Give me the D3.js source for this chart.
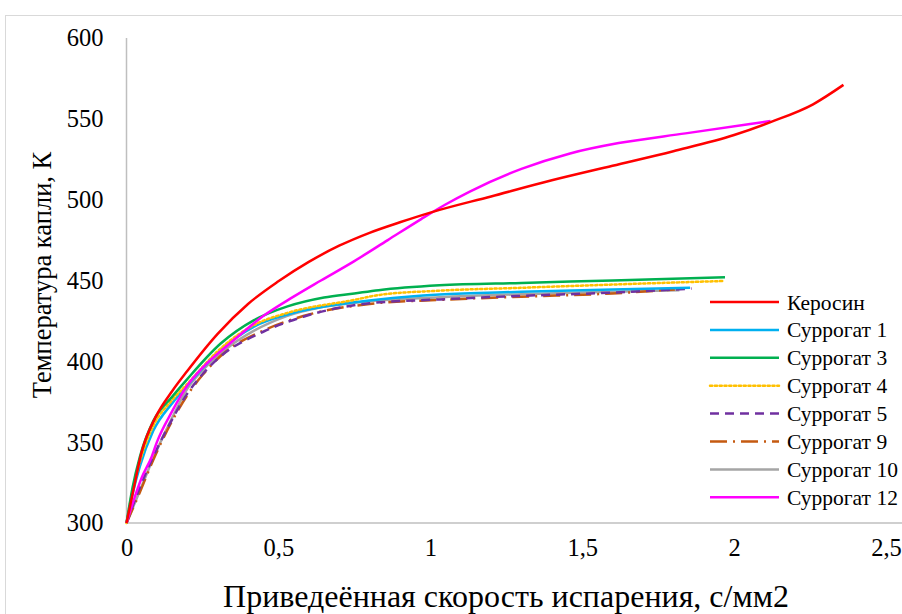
<!doctype html>
<html lang="ru">
<head>
  <meta charset="utf-8">
  <title>Температура капли</title>
  <script src="https://d3js.org/d3.v7.min.js"></script>
  <style>
    body { margin: 0; background: #fff; }
    text { font-family: "Liberation Serif", "Times New Roman", serif; fill: #000; }
  </style>
</head>
<body>
  <div id="chart"></div>
  <script>
    // series names, colours and line styles
    var names = ["Керосин", "Суррогат 1", "Суррогат 3", "Суррогат 4", "Суррогат 5", "Суррогат 9", "Суррогат 10", "Суррогат 12"];
    var colors = ["#FF0000", "#00B0F0", "#00B050", "#FFC000", "#7030A0", "#C55A11", "#A5A5A5", "#FF00FF"];
    var dashes = [null, null, null, "2.2,2.6", "9,6", "17,6,2,6", null, null];

    // values: [x, T]
    var kerosin = [[0,300],[0.02,318],[0.05,344],[0.1,367],[0.15,381.5],[0.2,394],[0.3,417],[0.4,435.5],[0.5,449.5],[0.6,461.5],[0.7,471.5],[0.8,479.5],[0.9,486],[1.0,492],[1.2,502],[1.4,512],[1.6,521],[1.8,530],[2.0,540],[2.12,548],[2.26,559],[2.36,571]];
    var surr1 = [[0,300],[0.02,318],[0.044,335],[0.088,357],[0.15,374],[0.2,385],[0.31,407],[0.42,421.5],[0.53,429],[0.75,436.5],[0.83,438.3],[1.03,441.4],[1.3,443],[1.6,444.5],[1.855,445.5]];
    var surr3 = [[0,300],[0.02,322],[0.044,341],[0.088,363],[0.15,378],[0.2,389],[0.31,411],[0.42,425.5],[0.53,434],[0.65,439.5],[0.75,442],[0.83,444],[1.03,447],[1.3,448.5],[1.6,450],[1.97,452]];
    var surr4 = [[0,300],[0.02,320],[0.044,338],[0.088,360],[0.15,376],[0.2,386],[0.31,408],[0.42,422.5],[0.53,430],[0.75,438],[0.83,441],[1.03,443.7],[1.3,445.5],[1.6,447.5],[1.965,449.7]];
    var surr5 = [[0,300],[0.044,322],[0.088,341],[0.15,364],[0.2,380],[0.25,392],[0.308,402.8],[0.45,418.3],[0.582,427.6],[0.8,435.9],[1.03,438.3],[1.3,440.5],[1.6,442.5],[1.86,445]];
    var surr9 = [[0,300],[0.044,319],[0.088,339],[0.15,363],[0.2,379],[0.25,391.5],[0.308,403],[0.45,419],[0.582,428],[0.8,435.5],[1.03,438],[1.3,440],[1.6,442],[1.805,444.5]];
    var surr10 = [[0,300],[0.044,320],[0.088,340],[0.15,365],[0.2,383],[0.253,395],[0.33,408],[0.42,419],[0.527,428],[0.75,436.2],[1.03,439.6],[1.3,441.5],[1.6,443],[1.82,444]];
    var surr12 = [[0,300],[0.02,312],[0.05,328],[0.083,341],[0.1,350],[0.15,369],[0.2,385],[0.25,396],[0.34,411],[0.45,428],[0.55,440],[0.64,450],[0.75,462],[0.86,475],[0.97,488],[1.05,497],[1.13,505],[1.3,519],[1.46,528.6],[1.62,535],[1.84,541],[2.12,548.6]];
    var series = [kerosin, surr1, surr3, surr4, surr5, surr9, surr10, surr12];
    // draw order: put Керосин and Суррогат 12 on top
    var drawOrder = [6, 5, 4, 1, 3, 2, 7, 0];

    var xTicks = [0, 0.5, 1, 1.5, 2, 2.5];
    var yTicks = [300, 350, 400, 450, 500, 550, 600];

    var width = 902, height = 614;

    var svg = d3.select('#chart')
                .append('svg')
                .attr('width', width)
                .attr('height', height);

    // outer chart border
    svg.append('rect')
       .attr('x', 5.5).attr('y', 15.5)
       .attr('width', 930).attr('height', 640)
       .attr('fill', 'none')
       .attr('stroke', '#D9D9D9');

    var x = d3.scaleLinear().domain([0, 2.5]).range([126.5, 886]);
    var y = d3.scaleLinear().domain([300, 600]).range([523, 38]);

    // axis lines
    svg.append('line')
       .attr('x1', x(0)).attr('x2', 902)
       .attr('y1', y(300)).attr('y2', y(300))
       .attr('stroke', '#BFBFBF').attr('stroke-width', 1.5);
    svg.append('line')
       .attr('x1', x(0)).attr('x2', x(0))
       .attr('y1', y(300)).attr('y2', y(600))
       .attr('stroke', '#BFBFBF').attr('stroke-width', 1.5);

    // tick labels
    var yAxis = d3.axisLeft(y).tickValues(yTicks).tickSize(0).tickPadding(23);
    var gy = svg.append('g').attr('transform', 'translate(' + x(0) + ',0)').call(yAxis);
    var xAxis = d3.axisBottom(x).tickValues(xTicks).tickSize(0).tickPadding(16)
                  .tickFormat(function(d) { return String(d).replace('.', ','); });
    var gx = svg.append('g').attr('transform', 'translate(0,' + y(300) + ')').call(xAxis);
    [gx, gy].forEach(function(g) {
      g.select('.domain').remove();
      g.selectAll('text')
       .style('font-family', '"Liberation Serif", serif')
       .style('font-size', '24.5px')
       .attr('fill', '#000');
    });

    // lines
    var line = d3.line()
                 .x(function(d) { return x(d[0]); })
                 .y(function(d) { return y(d[1]); })
                 .curve(d3.curveMonotoneX);

    svg.selectAll('.series')
       .data(drawOrder)
       .enter()
       .append('path')
       .attr('class', 'series')
       .attr('d', function(i) { return line(series[i]); })
       .attr('fill', 'none')
       .attr('stroke', function(i) { return colors[i]; })
       .attr('stroke-width', 2.5)
       .attr('stroke-dasharray', function(i) { return dashes[i]; })
       .attr('stroke-linecap', function(i) { return i === 3 ? 'round' : 'butt'; });

    // legend
    var legend = svg.selectAll('.legend')
                    .data(names)
                    .enter()
                    .append('g')
                    .attr('class', 'legend')
                    .attr('transform', function(d, i) { return 'translate(710,' + (302 + i * 27.9) + ')'; });
    legend.append('line')
          .attr('x1', 0).attr('x2', 69)
          .attr('stroke', function(d, i) { return colors[i]; })
          .attr('stroke-width', 2.5)
          .attr('stroke-dasharray', function(d, i) { return dashes[i]; })
          .attr('stroke-linecap', function(d, i) { return i === 3 ? 'round' : 'butt'; });
    legend.append('text')
          .attr('x', 77).attr('dy', '0.35em')
          .style('font-size', '21.5px')
          .text(function(d) { return d; });

    // axis titles
    svg.append('text')
       .attr('x', 506).attr('y', 607)
       .attr('text-anchor', 'middle')
       .style('font-size', '32px')
       .text('Приведеённая скорость испарения, с/мм2');
    svg.append('text')
       .attr('transform', 'translate(51,275) rotate(-90)')
       .attr('text-anchor', 'middle')
       .style('font-size', '26.5px')
       .text('Температура капли, К');
  </script>
</body>
</html>
